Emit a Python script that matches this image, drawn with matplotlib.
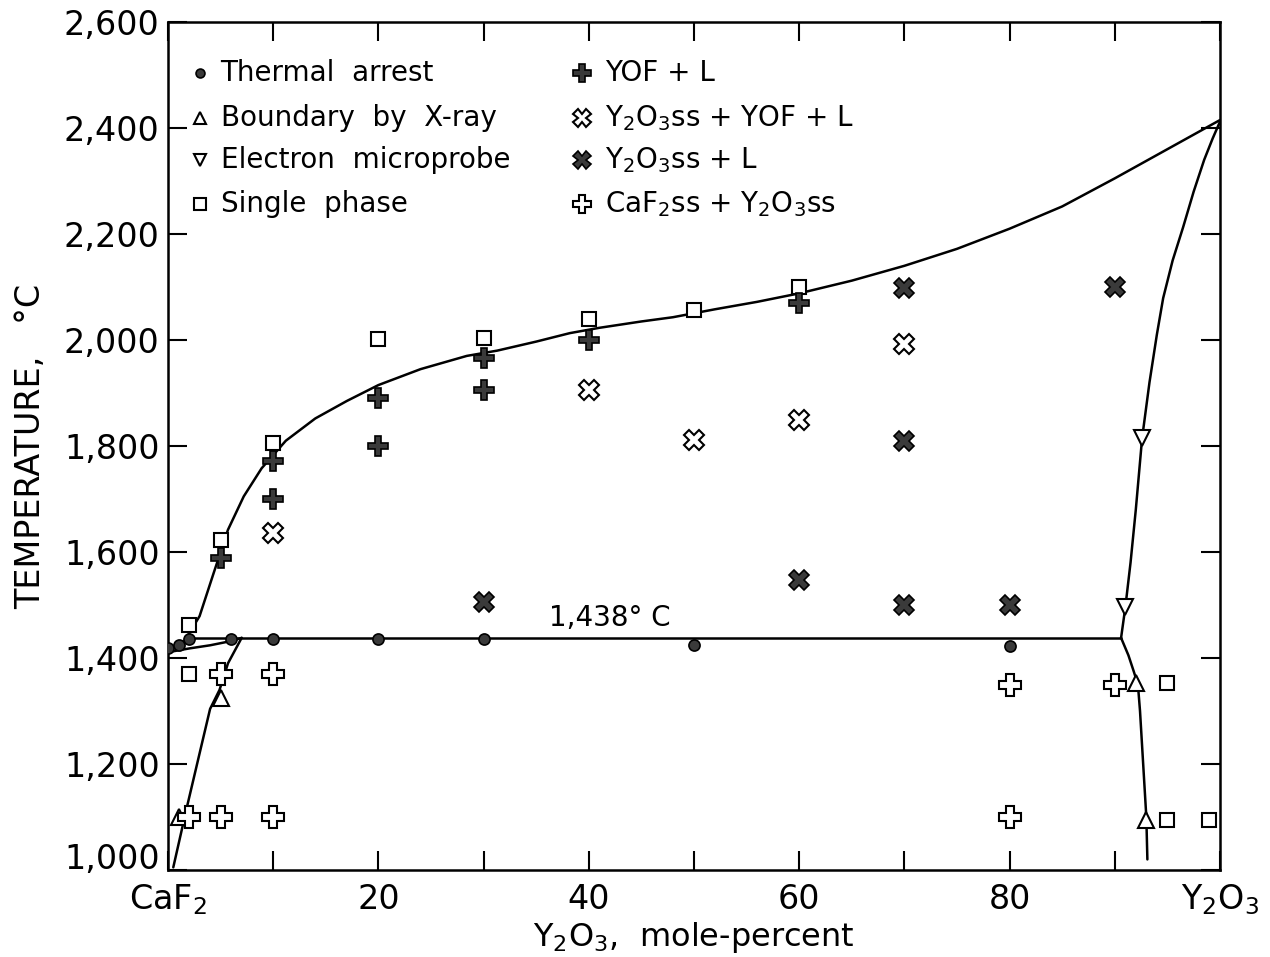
import matplotlib
matplotlib.use("Agg")
import matplotlib.pyplot as plt
import matplotlib.transforms as mtransforms

plt.rcParams['font.family'] = ['DejaVu Sans']
plt.rcParams['mathtext.default'] = 'regular'

# ---------------- data ----------------
thermal_x = [0, 1, 2, 6, 10, 20, 30, 50, 80]
thermal_t = [1418, 1425, 1436, 1436, 1436, 1436, 1436, 1424, 1422]

xray_x = [5, 1, 92, 93]
xray_t = [1325, 1100, 1352, 1095]

probe_x = [92.6, 91]
probe_t = [1815, 1496]

single_x = [2, 2, 5, 10, 20, 30, 40, 50, 60, 95, 95, 99]
single_t = [1462, 1370, 1622, 1805, 2002, 2004, 2040, 2056, 2100, 1353, 1095, 1095]

yofl_x = [5, 10, 10, 20, 20, 30, 30, 40, 60]
yofl_t = [1588, 1772, 1700, 1890, 1800, 1966, 1906, 2000, 2070]

y2o3_yof_l_x = [10, 40, 50, 60, 70]
y2o3_yof_l_t = [1635, 1905, 1811, 1849, 1992]

y2o3_l_x = [30, 60, 70, 70, 70, 80, 90]
y2o3_l_t = [1505, 1547, 1500, 1810, 2098, 1500, 2100]

caf2_y2o3_x = [5, 10, 2, 5, 10, 80, 80, 90]
caf2_y2o3_t = [1370, 1370, 1100, 1100, 1100, 1350, 1100, 1350]

# phase boundary curves
liquidus_x = [1.5, 3, 4.3, 5.7, 7.2, 8.9, 11.2, 14, 17, 20, 24, 28.4, 31.3, 35, 38.2,
              41, 45, 48, 52, 56, 60, 65, 70, 75, 80, 85, 90, 95, 100]
liquidus_t = [1430, 1479, 1558, 1642, 1705, 1758, 1810, 1852, 1885, 1915, 1945, 1970,
              1980, 1997, 2013, 2023, 2035, 2043, 2058, 2072, 2088, 2112, 2140, 2172,
              2210, 2252, 2305, 2360, 2415]

eutectic_x = [2, 90.6]
eutectic_t = [1438, 1438]

left_solidus_x = [0.3, 2, 4, 6, 7]
left_solidus_t = [1412, 1418, 1424, 1432, 1438]

left_solvus_x = [7, 5.7, 4.9, 4, 3, 1.8, 0.5]
left_solvus_t = [1438, 1390, 1340, 1304, 1220, 1119, 1005]

right_liquidus_x = [90.6, 91, 91.5, 92, 92.6, 93.3, 94, 94.6, 95.5, 96.5, 97.5, 98.5, 99.3, 100]
right_liquidus_t = [1438, 1495, 1580, 1680, 1815, 1920, 2010, 2079, 2150, 2213, 2280, 2340, 2380, 2412]

right_solvus_x = [90.6, 91.3, 91.8, 92.2, 92.4, 92.7, 93.0, 93.1]
right_solvus_t = [1438, 1405, 1375, 1350, 1300, 1200, 1100, 1020]

xtick_vals = [0, 20, 40, 60, 80, 100]
xtick_labels = ['CaF$_2$', '20', '40', '60', '80', 'Y$_2$O$_3$']
ytick_vals = [1000, 1200, 1400, 1600, 1800, 2000, 2200, 2400, 2600]
ytick_labels = ['1,000', '1,200', '1,400', '1,600', '1,800', '2,000', '2,200', '2,400', '2,600']

# ---------------- figure ----------------
fig = plt.figure(figsize=(12.7, 9.57), dpi=100)
ax = fig.add_axes([0.1323, 0.0909, 0.8283, 0.8861])
ax.set_xlim(0, 100)
ax.set_ylim(1000, 2600)

lw = 1.8
for xs, ts in [(liquidus_x, liquidus_t), (eutectic_x, eutectic_t),
               (left_solidus_x, left_solidus_t), (left_solvus_x, left_solvus_t),
               (right_liquidus_x, right_liquidus_t), (right_solvus_x, right_solvus_t)]:
    ax.plot(xs, ts, color='black', lw=lw, zorder=2, solid_capstyle='round',
            solid_joinstyle='round')

dark = '#3a3a3a'
styles = {
    'thermal': dict(marker='o', ms=8, mfc=dark, mec='black', mew=1.2),
    'xray': dict(marker='^', ms=11, mfc='white', mec='black', mew=1.5),
    'probe': dict(marker='v', ms=11, mfc='white', mec='black', mew=1.5),
    'single': dict(marker='s', ms=10, mfc='white', mec='black', mew=1.5),
    'yofl': dict(marker='P', ms=15, mfc=dark, mec='black', mew=1.2),
    'y2yofl': dict(marker='X', ms=15, mfc='white', mec='black', mew=1.5),
    'y2l': dict(marker='X', ms=15, mfc=dark, mec='black', mew=1.2),
    'caf2': dict(marker='P', ms=16, mfc='white', mec='black', mew=1.5),
}

series = [
    ('thermal', thermal_x, thermal_t),
    ('xray', xray_x, xray_t),
    ('probe', probe_x, probe_t),
    ('single', single_x, single_t),
    ('yofl', yofl_x, yofl_t),
    ('y2yofl', y2o3_yof_l_x, y2o3_yof_l_t),
    ('y2l', y2o3_l_x, y2o3_l_t),
    ('caf2', caf2_y2o3_x, caf2_y2o3_t),
]
for key, xs, ts in series:
    ax.plot(xs, ts, ls='none', zorder=3, **styles[key])

# annotation
ax.text(42, 1476, '1,438° C', fontsize=20, ha='center', va='center')

# legend (manual)
leg_left = [('thermal', 'Thermal  arrest'), ('xray', 'Boundary  by  X-ray'),
            ('probe', 'Electron  microprobe'), ('single', 'Single  phase')]
leg_right = [('yofl', 'YOF + L'), ('y2yofl', 'Y$_2$O$_3$ss + YOF + L'),
             ('y2l', 'Y$_2$O$_3$ss + L'), ('caf2', 'CaF$_2$ss + Y$_2$O$_3$ss')]
rows_t = [2504, 2419, 2340, 2257]
for (key, label), t in zip(leg_left, rows_t):
    st = dict(styles[key])
    st['ms'] = st['ms'] * 0.8
    ax.plot([3.0], [t], ls='none', **st)
    ax.text(5.0, t, label, fontsize=20, va='center', ha='left')
for (key, label), t in zip(leg_right, rows_t):
    st = dict(styles[key])
    st['ms'] = st['ms'] * 0.85
    ax.plot([39.4], [t], ls='none', **st)
    ax.text(41.5, t, label, fontsize=20, va='center', ha='left')

# axes styling
for sp in ax.spines.values():
    sp.set_linewidth(1.8)
ax.set_xticks(xtick_vals)
ax.set_xticklabels(xtick_labels, fontsize=24)
ax.set_xticks([10, 30, 50, 70, 90], minor=True)
ax.set_yticks(ytick_vals)
ax.set_yticklabels(ytick_labels, fontsize=24)
ax.tick_params(axis='both', which='both', direction='in', top=True, right=True,
               length=14, width=1.5)
ax.tick_params(axis='x', which='major', pad=9)
ax.tick_params(axis='y', which='major', pad=6)

# lift the lowest y label a little (as in the reference) so it clears "CaF2"
lbl0 = ax.get_yticklabels()[0]
lbl0.set_transform(lbl0.get_transform() +
                   mtransforms.ScaledTranslation(0, 10 / 72, fig.dpi_scale_trans))

ax.set_xlabel('Y$_2$O$_3$,  mole-percent', fontsize=23, labelpad=2)
ax.set_ylabel('TEMPERATURE,   °C', fontsize=24, labelpad=12)

fig.savefig('out.png', dpi=100)
